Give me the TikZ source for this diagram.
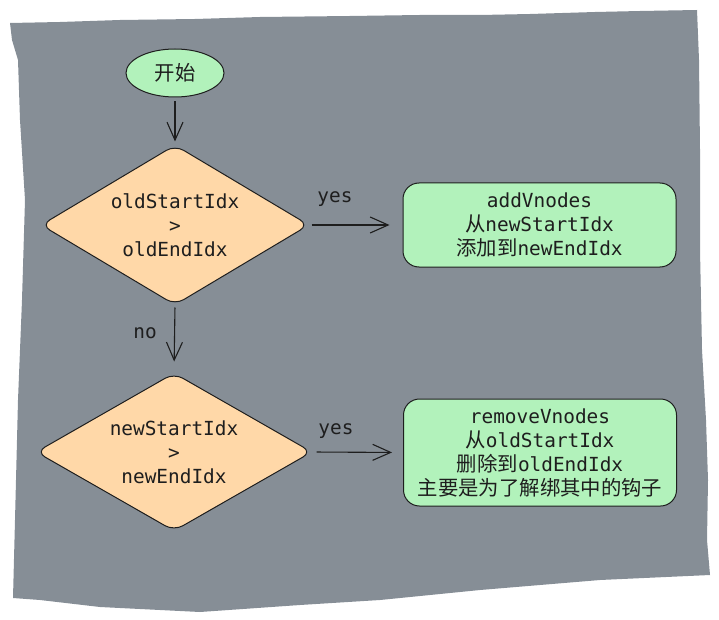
\documentclass[tikz,border=0pt]{standalone}
\usepackage{fontspec}
\setmonofont{DejaVu Sans Mono}
\newfontfamily\cjk{Noto Sans CJK SC}[Scale=1.05]
\usetikzlibrary{shapes.geometric,arrows.meta}
\newcommand\zh[1]{{\cjk #1}}
\definecolor{bggray}{HTML}{868E96}
\definecolor{fillgreen}{HTML}{B2F2BB}
\definecolor{fillorange}{HTML}{FFD8A8}
\definecolor{ink}{HTML}{1E1E1E}
\tikzset{
  txt/.style={font=\ttfamily\fontsize{19.4}{24}\selectfont, text=ink, align=center},
  startnode/.style={txt, ellipse, draw=ink, line width=1pt, fill=fillgreen, minimum width=98pt, minimum height=48pt, inner sep=0pt},
  decision/.style={txt, diamond, aspect=1.7, draw=ink, line width=1pt, fill=fillorange, inner sep=0pt, rounded corners=10pt},
  actionbox/.style={txt, rectangle, draw=ink, line width=1pt, fill=fillgreen, rounded corners=16pt, minimum width=273pt, inner sep=0pt},
  flow/.style={draw=ink, line width=1.1pt, -{Straight Barb[length=18pt,width=16pt,line width=1.1pt]}},
  lbl/.style={txt}
}
\begin{document}
\begin{tikzpicture}[x=1pt,y=-1pt]
\useasboundingbox (0,0) rectangle (719,620);
\fill[bggray] (10,23) -- (60,22) -- (120,20) -- (195,19) -- (260,17) -- (350,16) -- (420,15) -- (480,15) -- (530,14) -- (595,12) -- (640,11) -- (697,10) -- (699,60) -- (700,150) -- (700,250) -- (702,350) -- (706,420) -- (708,480) -- (707,540) -- (710,575) -- (600,580) -- (480,590) -- (380,600) -- (300,605) -- (200,612) -- (100,607) -- (40,600) -- (13,598) -- (15,520) -- (18,400) -- (22,300) -- (25,200) -- (20,120) -- (18,60) -- (12,40) -- cycle;

\node[startnode] (start) at (175,73) {\zh{开始}};
\node[decision, minimum width=268pt, minimum height=160pt] (d1) at (175,225) {oldStartIdx\\>\\oldEndIdx};
\node[decision, minimum width=276pt, minimum height=158pt] (d2) at (174,452) {newStartIdx\\>\\newEndIdx};
\node[actionbox, minimum height=84pt] (a1) at (539.5,225) {addVnodes\\\zh{从}newStartIdx\\\zh{添加到}newEndIdx};
\node[actionbox, minimum height=107pt] (a2) at (540,452.5) {removeVnodes\\\zh{从}oldStartIdx\\\zh{删除到}oldEndIdx\\\zh{主要是为了解绑其中的钩子}};

\draw[flow, shorten <=4pt, shorten >=3pt] (start) -- (d1);
\draw[flow, shorten <=2pt, shorten >=13pt] (d1.east) -- (a1.west);
\draw[flow, shorten <=2pt, shorten >=11pt] (d1.south) -- (d2.north);
\draw[flow, shorten <=4pt, shorten >=11pt] (d2.east) -- (a2.west);

\node[lbl] (y1) at (335,199) {yes};
\node[lbl] (n1) at (145,333) {no};
\node[lbl] (y2) at (336,431) {yes};
\end{tikzpicture}
\end{document}
